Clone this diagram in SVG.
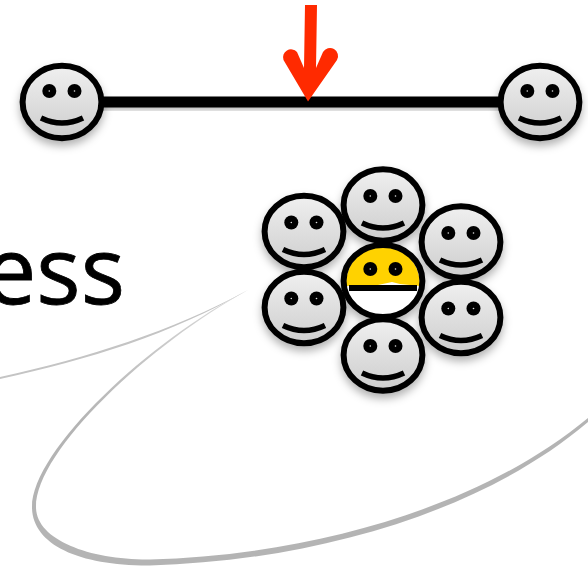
<svg xmlns="http://www.w3.org/2000/svg" width="588" height="567" viewBox="0 0 588 567">
<defs>
<linearGradient id="g" x1="0" y1="0" x2="0" y2="1"><stop offset="0" stop-color="#f0f0f0"/><stop offset="1" stop-color="#cdcdcd"/></linearGradient>
<linearGradient id="tip" gradientUnits="userSpaceOnUse" x1="248" y1="290" x2="248" y2="420"><stop offset="0" stop-color="#dadada"/><stop offset="1" stop-color="#b4b4b4"/></linearGradient>
<filter id="sh" x="-30%" y="-30%" width="160%" height="170%"><feDropShadow dx="0" dy="5" stdDeviation="4" flood-color="#000" flood-opacity="0.3"/></filter>
<filter id="sl" x="-5%" y="-5%" width="110%" height="130%"><feDropShadow dx="0" dy="3" stdDeviation="2" flood-color="#000" flood-opacity="0.25"/></filter>
<g id="eyes"><circle cx="-12.700" cy="-9" r="7"/><circle cx="12.500" cy="-9" r="7"/><circle cx="-12.700" cy="-9" r="0.800" fill="#ddd"/><circle cx="12.500" cy="-9" r="0.800" fill="#ddd"/></g>
<g id="face"><ellipse class="ring" rx="39.400" ry="35.800" fill="url(#g)"/><use href="#eyes"/><path class="mouth" d="M-21,18 Q0,28 21,18"/></g>
<g id="face-high"><ellipse class="ring" rx="39.400" ry="36.300" fill="url(#g)"/><use href="#eyes" y="-2"/><path class="mouth" d="M-21,16 Q0,26 21,16"/></g>
</defs>
<style>
.ring{stroke:#000;stroke-width:6}
.mouth{fill:none;stroke:#000;stroke-width:5.500}
.swoosh{fill:url(#tip)}
.label{font-family:"Open Sans","Noto Sans",sans-serif;font-size:93px;fill:#000;stroke:#000;stroke-width:0.800}
</style>
<text class="label" x="125" y="304" text-anchor="end">ess</text>
<g id="swoosh">
<path fill="#c4c4c4" d="M248,290 C170,332 90,357 0,377 L0,379 C90,359 170,335 248,290Z"/>
<path class="swoosh" d="M248,290 C150,340 32,450 32,507 C32,545 80,566 150,565.500 C310,561 480,514 588,422 L588,418 C480,508 310,555 150,559.500 C90,560 36,540 36,507 C36,450 150,344 248,290Z"/>
</g>
<g id="connectors">
<rect x="100" y="96.500" width="405" height="11" fill="#000" filter="url(#sl)"/>
<path id="arrow" fill="#ff2a00" d="M305,5H317L316,68L323,52A8 8 0 0 1 337,60L308,101.500L283.500,60A8 8 0 0 1 297,52L304,68Z"/>
</g>
<g filter="url(#sh)">
<g id="node-left"><use href="#face-high" x="62" y="102"/></g>
<g id="node-right"><use href="#face-high" x="540" y="102"/></g>
<g id="node-c1"><use href="#face" x="383" y="205"/></g>
<g id="node-c2"><use href="#face" x="304" y="231.500"/></g>
<g id="node-c3"><use href="#face" x="461" y="242"/></g>
<g id="node-c4"><use href="#face" x="304" y="307.500"/></g>
<g id="node-c5"><use href="#face" x="461" y="317.500"/></g>
<g id="node-c6"><use href="#face" x="383" y="355"/></g>
<g id="node-center">
<ellipse cx="383" cy="281" rx="39.400" ry="36" fill="#fff"/>
<path d="M346,286 C346,262 362,247 383,247 C404,247 420,262 420,286 L400,284 L392,282 L378,285Z" fill="#ffd200"/>
<ellipse cx="383" cy="281" rx="39.400" ry="36" fill="none" stroke="#000" stroke-width="6"/>
<rect x="349" y="285" width="68" height="6" fill="#000"/>
<use href="#eyes" x="383" y="278"/>
</g>
</g>
</svg>
